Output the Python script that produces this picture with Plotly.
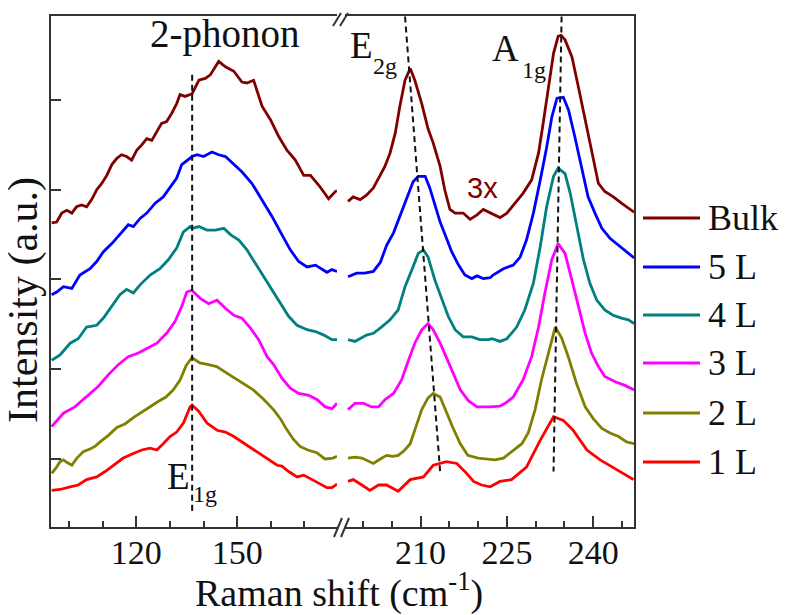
import plotly.graph_objects as go

# ---------------- data (Raman shift in cm^-1, intensity in offset a.u.) ----------------
BULK_X_LO = [94.8, 96.3, 97.8, 99.3, 100.8, 102.2, 103.7, 105.2, 106.7, 108.2, 109.7, 111.2, 112.7, 114.2, 115.6, 117.1, 118.6, 120.1, 121.6, 123.1, 124.6, 126.1, 127.5, 129.0, 130.5, 132.0, 133.0, 134.5, 136.0, 136.6, 138.6, 140.5, 142.0, 144.5, 146.5, 149.0, 151.4, 152.9, 154.9, 157.4, 159.9, 162.4, 164.8, 167.3, 169.8, 171.8, 174.3, 177.2, 179.2, 179.7]
BULK_Y_LO = [3.63, 3.64, 3.74, 3.77, 3.74, 3.81, 3.83, 3.81, 3.89, 4.00, 4.07, 4.16, 4.28, 4.35, 4.39, 4.37, 4.33, 4.44, 4.50, 4.57, 4.55, 4.65, 4.74, 4.76, 4.85, 4.96, 5.06, 5.04, 5.06, 5.07, 5.22, 5.24, 5.28, 5.43, 5.37, 5.32, 5.20, 5.19, 5.22, 4.93, 4.78, 4.59, 4.44, 4.33, 4.16, 4.16, 4.05, 3.90, 3.98, 3.99]
BULK_X_HI = [197.4, 198.3, 199.5, 200.6, 201.8, 203.0, 203.8, 204.7, 205.6, 206.4, 207.3, 208.2, 209.0, 210.2, 211.3, 212.2, 213.4, 214.2, 215.1, 216.0, 217.4, 218.6, 219.8, 220.9, 222.1, 223.8, 225.0, 226.4, 227.8, 229.3, 230.5, 231.3, 232.2, 233.1, 233.9, 234.4, 235.1, 236.3, 237.4, 238.6, 239.7, 240.9, 242.0, 243.5, 244.9, 246.1, 247.1]
BULK_Y_HI = [3.87, 3.92, 3.89, 3.94, 4.02, 4.16, 4.26, 4.41, 4.63, 4.93, 5.22, 5.35, 5.22, 4.96, 4.68, 4.52, 4.26, 4.00, 3.78, 3.74, 3.74, 3.67, 3.72, 3.78, 3.74, 3.69, 3.74, 3.85, 3.96, 4.11, 4.41, 4.74, 5.15, 5.52, 5.71, 5.72, 5.67, 5.48, 5.15, 4.78, 4.41, 4.07, 3.98, 3.92, 3.85, 3.79, 3.75]

L5_X_LO = [94.8, 96.3, 98.3, 100.8, 103.2, 106.2, 108.2, 110.2, 112.7, 115.1, 117.6, 119.1, 121.1, 123.1, 125.6, 128.0, 130.0, 132.0, 133.5, 136.0, 136.6, 138.1, 140.0, 142.5, 144.5, 146.5, 149.0, 151.4, 154.4, 157.4, 160.4, 163.3, 165.8, 168.3, 170.8, 173.3, 175.3, 176.7, 178.2, 179.7]
L5_Y_LO = [2.83, 2.86, 2.92, 2.90, 3.05, 3.12, 3.20, 3.31, 3.40, 3.50, 3.61, 3.59, 3.68, 3.74, 3.85, 3.92, 4.02, 4.13, 4.28, 4.35, 4.37, 4.39, 4.37, 4.42, 4.39, 4.37, 4.28, 4.20, 4.07, 3.89, 3.70, 3.50, 3.33, 3.20, 3.14, 3.16, 3.11, 3.08, 3.11, 3.09]
L5_X_HI = [197.4, 198.9, 200.3, 201.8, 203.0, 204.1, 205.3, 206.4, 207.6, 208.7, 209.6, 210.8, 211.6, 212.5, 213.4, 214.5, 215.4, 216.6, 217.7, 218.9, 219.8, 220.9, 222.1, 222.6, 224.4, 226.1, 227.3, 228.4, 229.6, 230.8, 231.9, 232.8, 233.7, 234.8, 235.7, 236.8, 238.0, 239.1, 240.3, 241.5, 242.9, 244.4, 245.8, 247.1]
L5_Y_HI = [3.03, 3.07, 3.07, 3.09, 3.19, 3.38, 3.52, 3.71, 3.91, 4.09, 4.15, 4.15, 4.02, 3.84, 3.64, 3.46, 3.31, 3.16, 3.05, 3.01, 3.04, 3.01, 3.02, 3.05, 3.12, 3.16, 3.25, 3.44, 3.74, 4.11, 4.47, 4.81, 5.02, 5.03, 4.89, 4.59, 4.22, 3.92, 3.74, 3.57, 3.46, 3.38, 3.31, 3.24]

L4_X_LO = [94.8, 97.3, 100.3, 102.7, 105.2, 108.2, 110.2, 112.7, 115.1, 117.1, 119.1, 121.1, 124.1, 127.0, 129.5, 132.0, 134.0, 136.0, 136.6, 138.6, 141.0, 143.5, 146.0, 148.0, 150.5, 152.9, 155.4, 157.9, 160.4, 162.8, 165.3, 167.8, 170.8, 173.3, 175.8, 178.2, 179.7]
L4_Y_LO = [2.10, 2.16, 2.29, 2.34, 2.47, 2.49, 2.57, 2.70, 2.83, 2.89, 2.85, 2.94, 3.05, 3.12, 3.22, 3.35, 3.53, 3.59, 3.57, 3.59, 3.55, 3.55, 3.57, 3.50, 3.44, 3.33, 3.18, 3.03, 2.88, 2.73, 2.59, 2.49, 2.44, 2.42, 2.38, 2.33, 2.33]
L4_X_HI = [197.4, 198.6, 200.6, 201.8, 203.2, 204.7, 206.1, 207.3, 208.5, 209.6, 210.5, 211.3, 212.5, 213.7, 214.8, 216.0, 217.4, 218.9, 220.3, 221.8, 222.4, 223.8, 225.0, 226.7, 228.1, 229.6, 230.8, 231.9, 233.1, 233.9, 235.1, 236.0, 237.1, 238.3, 239.4, 240.6, 242.0, 243.5, 244.9, 246.1, 247.1]
L4_Y_HI = [2.33, 2.31, 2.38, 2.40, 2.47, 2.55, 2.66, 2.92, 3.11, 3.29, 3.33, 3.25, 2.99, 2.77, 2.59, 2.44, 2.36, 2.36, 2.33, 2.33, 2.34, 2.31, 2.34, 2.47, 2.66, 2.96, 3.37, 3.81, 4.15, 4.24, 4.18, 3.96, 3.59, 3.22, 2.96, 2.77, 2.66, 2.60, 2.57, 2.55, 2.51]

L3_X_LO = [94.8, 98.3, 101.7, 105.2, 108.7, 111.7, 114.6, 117.6, 120.6, 123.1, 126.1, 129.0, 131.5, 133.5, 135.0, 136.5, 139.0, 141.5, 144.0, 146.5, 149.0, 151.4, 153.9, 156.4, 158.9, 160.9, 163.3, 165.8, 168.3, 171.3, 173.8, 176.2, 178.2, 179.7]
L3_Y_LO = [1.36, 1.51, 1.58, 1.69, 1.81, 1.94, 2.05, 2.14, 2.18, 2.23, 2.29, 2.40, 2.53, 2.70, 2.86, 2.88, 2.79, 2.73, 2.77, 2.68, 2.60, 2.57, 2.46, 2.33, 2.14, 2.05, 1.90, 1.79, 1.73, 1.71, 1.66, 1.58, 1.56, 1.62]
L3_X_HI = [197.4, 198.6, 200.1, 201.5, 202.7, 203.8, 205.3, 206.7, 207.9, 209.0, 210.2, 211.3, 212.2, 213.4, 214.5, 215.7, 216.9, 218.3, 219.8, 220.9, 222.1, 223.8, 224.7, 226.1, 227.8, 229.3, 230.5, 231.6, 232.8, 233.9, 235.1, 236.3, 237.4, 238.6, 239.7, 240.9, 242.0, 243.8, 245.5, 247.1]
L3_Y_HI = [1.55, 1.62, 1.62, 1.58, 1.58, 1.66, 1.73, 1.88, 2.10, 2.29, 2.44, 2.51, 2.44, 2.29, 2.13, 1.95, 1.77, 1.65, 1.58, 1.58, 1.58, 1.59, 1.62, 1.69, 1.88, 2.14, 2.47, 2.85, 3.22, 3.40, 3.29, 2.99, 2.70, 2.40, 2.18, 2.03, 1.92, 1.86, 1.82, 1.77]

L2_X_LO = [94.8, 96.1, 97.3, 98.3, 99.4, 100.8, 102.3, 104.2, 106.2, 107.7, 109.2, 111.6, 114.2, 116.6, 119.1, 121.1, 123.5, 126.5, 128.8, 131.0, 133.0, 134.8, 136.5, 138.9, 141.5, 143.9, 148.9, 154.8, 158.0, 160.8, 163.0, 164.7, 166.7, 168.7, 171.0, 173.7, 176.1, 178.5, 179.7]
L2_Y_LO = [0.84, 0.90, 0.97, 0.99, 0.96, 0.93, 1.01, 1.08, 1.11, 1.14, 1.19, 1.26, 1.35, 1.39, 1.46, 1.51, 1.57, 1.64, 1.69, 1.77, 1.88, 2.04, 2.13, 2.07, 2.05, 2.03, 1.91, 1.77, 1.66, 1.55, 1.44, 1.33, 1.22, 1.14, 1.10, 1.07, 1.00, 1.01, 1.03]
L2_X_HI = [197.4, 198.6, 199.8, 200.7, 201.8, 203.0, 204.1, 205.2, 206.1, 207.1, 208.2, 209.2, 210.2, 211.3, 212.2, 213.4, 214.5, 215.6, 216.9, 218.2, 220.0, 221.7, 222.9, 224.4, 225.8, 227.6, 228.7, 229.9, 231.0, 232.2, 233.4, 234.5, 235.7, 237.1, 238.6, 240.0, 241.5, 242.9, 244.4, 245.8, 247.1]
L2_Y_HI = [1.01, 1.02, 1.01, 0.98, 0.95, 1.00, 1.04, 1.03, 1.04, 1.09, 1.17, 1.36, 1.55, 1.68, 1.73, 1.69, 1.51, 1.35, 1.17, 1.04, 1.01, 1.00, 0.99, 1.01, 1.08, 1.17, 1.29, 1.55, 1.88, 2.19, 2.47, 2.35, 2.13, 1.84, 1.58, 1.45, 1.34, 1.29, 1.25, 1.19, 1.17]

L1_X_LO = [94.8, 97.3, 100.3, 102.7, 105.2, 108.2, 110.7, 113.1, 116.1, 119.1, 121.6, 124.1, 126.1, 128.0, 130.0, 132.0, 134.0, 136.0, 136.6, 138.6, 141.0, 144.0, 146.5, 149.0, 151.4, 154.4, 156.9, 159.4, 161.9, 163.3, 165.3, 167.8, 169.8, 172.3, 174.8, 176.7, 178.2, 179.7]
L1_Y_LO = [0.65, 0.66, 0.69, 0.71, 0.77, 0.80, 0.86, 0.93, 1.01, 1.06, 1.10, 1.12, 1.10, 1.17, 1.25, 1.30, 1.40, 1.58, 1.60, 1.53, 1.40, 1.32, 1.30, 1.25, 1.19, 1.12, 1.06, 0.99, 0.93, 0.92, 0.86, 0.80, 0.82, 0.77, 0.72, 0.68, 0.68, 0.72]
L1_X_HI = [197.4, 198.3, 199.8, 201.2, 202.7, 204.1, 206.1, 208.2, 210.5, 212.2, 214.5, 216.3, 218.0, 219.2, 220.6, 222.1, 223.8, 225.8, 228.4, 230.8, 233.1, 234.8, 236.5, 238.9, 241.2, 244.1, 247.0]
L1_Y_HI = [0.75, 0.77, 0.71, 0.65, 0.71, 0.71, 0.64, 0.77, 0.80, 0.93, 0.97, 0.95, 0.84, 0.75, 0.71, 0.69, 0.75, 0.77, 0.91, 1.21, 1.47, 1.43, 1.32, 1.10, 0.99, 0.88, 0.77]

SERIES_NAMES = ["Bulk", "5 L", "4 L", "3 L", "2 L", "1 L"]

# guide lines through the peaks
E1G_X = [136.6, 136.6]
E1G_Y = [5.28, 0.41]
E2G_X = [207.3, 213.4]
E2G_Y = [5.93, 0.86]
A1G_X = [234.5, 233.1]
A1G_Y = [5.93, 0.86]

# axis ticks
LO_MAJOR = [120, 150]
LO_MINOR = [100, 110, 130, 140, 160, 170]
HI_MAJOR = [210, 225, 240]
HI_MINOR = [200, 205, 215, 220, 230, 235, 245]
Y_TICKS = [1, 2, 3, 4, 5]

# ---------------- styling ----------------
COLORS = ["#800000", "#0000FF", "#008080", "#FF00FF", "#808000", "#FF0000"]
SERIF = "Liberation Serif, Times New Roman, serif"
SANS = "Liberation Sans, Arial, sans-serif"
AX = "#333333"
TXT = "#111111"
OFF = 8                      # default page margin of the html body
W, H = 790 - OFF, 615 - OFF  # figure size so that it fits the window
PL, PR, PT, PB = 51, 634, 16, 527  # plot box, in window pixels


def fx(px):
    return (px - PL) / (PR - PL)


def fy(py):
    return (PB - py) / (PB - PT)


series = [
    (BULK_X_LO, BULK_Y_LO, BULK_X_HI, BULK_Y_HI),
    (L5_X_LO, L5_Y_LO, L5_X_HI, L5_Y_HI),
    (L4_X_LO, L4_Y_LO, L4_X_HI, L4_Y_HI),
    (L3_X_LO, L3_Y_LO, L3_X_HI, L3_Y_HI),
    (L2_X_LO, L2_Y_LO, L2_X_HI, L2_Y_HI),
    (L1_X_LO, L1_Y_LO, L1_X_HI, L1_Y_HI),
]

fig = go.Figure()
for name, color, (xl, yl, xh, yh) in zip(SERIES_NAMES, COLORS, series):
    fig.add_trace(go.Scatter(x=xl, y=yl, xaxis="x", yaxis="y", mode="lines",
                             line=dict(color=color, width=2.8), name=name,
                             legendgroup=name, showlegend=False))
    fig.add_trace(go.Scatter(x=xh, y=yh, xaxis="x2", yaxis="y2", mode="lines",
                             line=dict(color=color, width=2.8), name=name,
                             legendgroup=name, showlegend=False))

dash = dict(color=TXT, width=2, dash="6px,4px")
fig.add_trace(go.Scatter(x=E1G_X, y=E1G_Y, xaxis="x", yaxis="y", mode="lines", line=dash, showlegend=False, hoverinfo="skip"))
fig.add_trace(go.Scatter(x=E2G_X, y=E2G_Y, xaxis="x2", yaxis="y2", mode="lines", line=dash, showlegend=False, hoverinfo="skip"))
fig.add_trace(go.Scatter(x=A1G_X, y=A1G_Y, xaxis="x2", yaxis="y2", mode="lines", line=dash, showlegend=False, hoverinfo="skip"))

tickfont = dict(family=SERIF, size=34, color=TXT)
common_x = dict(showline=True, linecolor=AX, linewidth=2, mirror=True,
                ticks="inside", ticklen=11, tickwidth=2, tickcolor=AX,
                showgrid=False, zeroline=False, tickfont=tickfont,
                ticklabelstandoff=-6)

fig.update_layout(
    width=W, height=H,
    margin=dict(l=PL - OFF, r=W - (PR - OFF), t=PT - OFF, b=H - (PB - OFF), autoexpand=False),
    paper_bgcolor="white", plot_bgcolor="white",
    showlegend=False,
    xaxis=dict(domain=[0, fx(337)], range=[94.6, 179.7], anchor="y",
               tickmode="array", tickvals=LO_MAJOR, ticktext=[str(v) for v in LO_MAJOR],
               minor=dict(tickmode="array", tickvals=LO_MINOR, ticks="inside", ticklen=6,
                          tickwidth=2, tickcolor=AX, showgrid=False),
               **common_x),
    xaxis2=dict(domain=[fx(345), 1], range=[196.87, 247.08], anchor="y2",
                tickmode="array", tickvals=HI_MAJOR, ticktext=[str(v) for v in HI_MAJOR],
                minor=dict(tickmode="array", tickvals=HI_MINOR, ticks="inside", ticklen=6,
                           tickwidth=2, tickcolor=AX, showgrid=False),
                **common_x),
    yaxis=dict(domain=[0, 1], range=[0.242, 5.936], anchor="x",
               showline=True, linecolor=AX, linewidth=2,
               tickmode="array", tickvals=Y_TICKS, ticks="inside", ticklen=10,
               tickwidth=2, tickcolor=AX, showticklabels=False,
               showgrid=False, zeroline=False),
    yaxis2=dict(domain=[0, 1], range=[0.242, 5.936], anchor="x2", matches="y",
                side="right", showline=True, linecolor=AX, linewidth=2,
                ticks="", showticklabels=False, showgrid=False, zeroline=False),
)

# axis break marks (//) on top and bottom spines
shapes = []
for x0 in (333, 340):
    shapes.append(dict(type="line", xref="paper", yref="paper",
                       x0=fx(x0), y0=fy(26), x1=fx(x0 + 8), y1=fy(13),
                       line=dict(color=AX, width=2)))
for x0 in (334, 341):
    shapes.append(dict(type="line", xref="paper", yref="paper",
                       x0=fx(x0), y0=fy(537), x1=fx(x0 + 8), y1=fy(518),
                       line=dict(color=AX, width=2)))

# legend drawn at the right of the frame
LEG_Y = [218, 267, 315, 363, 413, 462]
annotations = []
for name, color, py in zip(SERIES_NAMES, COLORS, LEG_Y):
    shapes.append(dict(type="line", xref="paper", yref="paper",
                       x0=fx(643), x1=fx(700), y0=fy(py), y1=fy(py),
                       line=dict(color=color, width=3)))
    annotations.append(dict(text=name, xref="paper", yref="paper", x=fx(706), y=fy(py),
                            xanchor="left", yanchor="middle", showarrow=False,
                            font=dict(family=SERIF, size=36, color=TXT)))


def label(text, xref, x, y, size, color=TXT, family=SERIF, xanchor="left"):
    return dict(text=text, xref=xref, yref="y" if xref == "x" else "y2", x=x, y=y,
                xanchor=xanchor, yanchor="middle", showarrow=False,
                font=dict(family=family, size=size, color=color))


annotations += [
    label("2-phonon", "x", 146.4, 5.73, 39, xanchor="center"),
    # E2g
    label("E", "x2", 197.4, 5.61, 37),
    label("2g", "x2", 201.4, 5.38, 24),
    # A1g
    label("A", "x2", 222.1, 5.57, 37),
    label("1g", "x2", 227.3, 5.33, 24),
    # E1g
    label("E", "x", 128.6, 0.80, 37),
    label("1g", "x", 136.3, 0.61, 24),
    label("3x", "x2", 217.8, 4.02, 29, color="#800000", family=SANS),
    dict(text="Raman shift (cm<sup>-1</sup>)", xref="paper", yref="paper",
         x=fx(339), y=fy(590), xanchor="center", yanchor="middle", showarrow=False,
         font=dict(family=SERIF, size=38, color=TXT)),
    dict(text="Intensity (a.u.)", xref="paper", yref="paper", textangle=-90,
         x=fx(23), y=fy(300), xanchor="center", yanchor="middle", showarrow=False,
         font=dict(family=SERIF, size=42, color=TXT)),
]

fig.update_layout(shapes=shapes, annotations=annotations)
fig.write_html("out.html")
